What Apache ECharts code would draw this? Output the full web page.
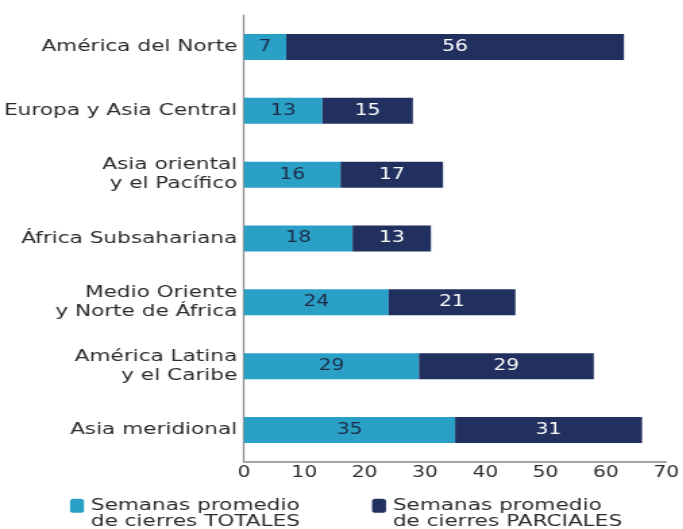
<!DOCTYPE html>
<html>
<head>
<meta charset="utf-8">
<script src="https://cdn.jsdelivr.net/npm/echarts@6/dist/echarts.min.js"></script>
<style>
  html,body{margin:0;padding:0;background:#fff;overflow:hidden;}
  /* the reference type is set wide, so the chart is drawn narrow and stretched */
  #chart{width:506px;height:529px;transform:scaleX(1.35);transform-origin:0 0;}
</style>
</head>
<body>
<div id="chart"></div>
<script>
// regions, bottom to top (category axis runs upward)
var regions = [
    "Asia meridional",
    "América Latina\ny el Caribe",
    "Medio Oriente\ny Norte de África",
    "África Subsahariana",
    "Asia oriental\ny el Pacífico",
    "Europa y Asia Central",
    "América del Norte"
];
var totales = [35, 29, 24, 18, 16, 13, 7];
var parciales = [31, 29, 21, 13, 17, 15, 56];
var seriesNames = ["Semanas promedio\nde cierres TOTALES", "Semanas promedio\nde cierres PARCIALES"];
var xMin = 0, xMax = 70, xStep = 10;

var sx = 1.35;
var font = "DejaVu Sans";
var legendText = {fontFamily: font, fontSize: 16, color: '#2b2b2b', lineHeight: 16.5};

var myChart = echarts.init(document.getElementById('chart'));
var option = {
    animation: false,
    textStyle: {fontFamily: font},
    grid: {left: 243 / sx, right: 16 / sx, top: 15, bottom: 67},
    legend: [
        {
            data: [seriesNames[0]], left: 70 / sx, top: 481, padding: 0,
            itemWidth: 14 / sx, itemHeight: 14, itemGap: 0,
            formatter: function (name) { return '\n' + name; },
            textStyle: legendText
        },
        {
            data: [seriesNames[1]], left: 372 / sx, top: 481, padding: 0,
            itemWidth: 14 / sx, itemHeight: 14, itemGap: 0,
            formatter: function (name) { return '\n' + name; },
            textStyle: legendText
        }
    ],
    xAxis: {
        type: 'value', min: xMin, max: xMax, interval: xStep,
        splitLine: {show: false},
        axisLine: {show: true, lineStyle: {color: '#8a8a8a', width: 1.5}},
        axisTick: {show: false},
        axisLabel: {color: '#2b2b2b', fontSize: 15, margin: 4, fontFamily: font}
    },
    yAxis: {
        type: 'category', data: regions,
        axisLine: {show: true, lineStyle: {color: '#8a8a8a', width: 1.2}},
        axisTick: {show: false},
        axisLabel: {color: '#2b2b2b', fontSize: 16, lineHeight: 19, margin: 5, fontFamily: font, align: 'right'}
    },
    series: [
        {
            name: seriesNames[0], type: 'bar', stack: 'semanas', data: totales,
            barWidth: 26,
            itemStyle: {color: '#2aa0c7'},
            label: {show: true, position: 'inside', color: '#1e2a45', fontSize: 15, fontFamily: font}
        },
        {
            name: seriesNames[1], type: 'bar', stack: 'semanas', data: parciales,
            barWidth: 26,
            itemStyle: {color: '#21305f'},
            label: {show: true, position: 'inside', color: '#ffffff', fontSize: 15, fontFamily: font}
        }
    ]
};
myChart.setOption(option);
</script>
</body>
</html>
